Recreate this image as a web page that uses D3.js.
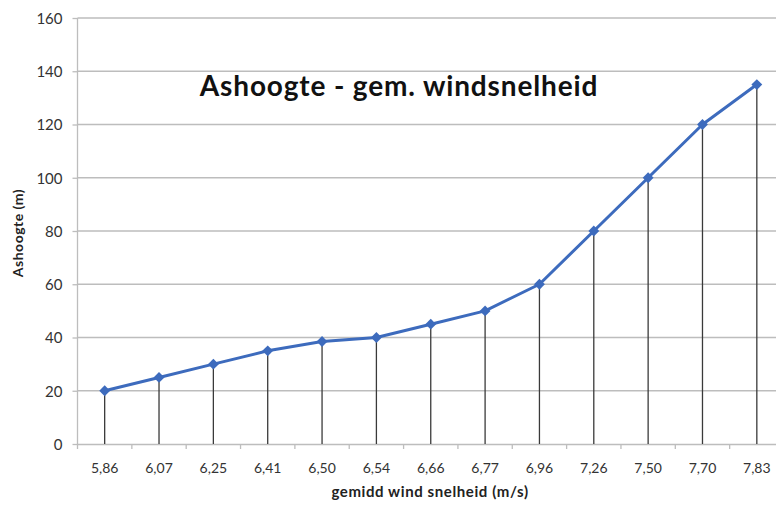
<!DOCTYPE html>
<html><head><meta charset="utf-8">
<script src="https://cdn.jsdelivr.net/npm/d3@7"></script>
<style>body{margin:0;background:#fff}svg{display:block}</style>
</head><body>
<svg id="c" width="776" height="505"></svg>
<script>
const categories = ["5,86","6,07","6,25","6,41","6,50","6,54","6,66","6,77","6,96","7,26","7,50","7,70","7,83"];
const heights = [20,25,30,35,38.5,40,45,50,60,80,100,120,135];
const yTicks = [0,20,40,60,80,100,120,140,160];
const title = "Ashoogte - gem. windsnelheid";
const xTitle = "gemidd wind snelheid (m/s)";
const yTitle = "Ashoogte (m)";

(function(){
const svg = d3.select("#c");
const pl = 77.5, pr = 784, pt = 18, pb = 444;
const x = d3.scaleBand().domain(categories).range([pl, pr]);
const y = d3.scaleLinear().domain([0,160]).range([pb, pt]);
const font = "Lato, 'Open Sans', sans-serif";

svg.append("g").selectAll("line").data(yTicks.filter(d=>d>0)).join("line")
  .attr("x1", pl).attr("x2", 776).attr("y1", d=>y(d)).attr("y2", d=>y(d))
  .attr("stroke", "#bdbdbd").attr("stroke-width", 1.3);

const ya = svg.append("g").attr("transform", `translate(${pl},0)`)
  .call(d3.axisLeft(y).tickValues(yTicks).tickSize(5).tickPadding(10));
ya.select(".domain").attr("stroke", "#bdbdbd").attr("stroke-width", 1.3).attr("d", `M0,${pb}V${pt}`);
ya.selectAll(".tick line").attr("stroke", "#bdbdbd").attr("stroke-width", 1.3);
ya.selectAll("text").attr("font-family", font).attr("font-size", 15).attr("fill", "#333").attr("dy", "0.36em");

const xa = svg.append("g").attr("transform", `translate(0,${pb})`)
  .call(d3.axisBottom(x).tickSize(0));
xa.select(".domain").attr("stroke", "#bdbdbd").attr("stroke-width", 1.3);
xa.selectAll("text").attr("font-family", font).attr("font-size", 14).attr("fill", "#333")
  .attr("y", 29).attr("dy", 0);
svg.append("g").selectAll("line").data(categories.map((c,i)=>pl + i*x.step())).join("line")
  .attr("x1", d=>d).attr("x2", d=>d).attr("y1", pb).attr("y2", pb+5)
  .attr("stroke", "#bdbdbd").attr("stroke-width", 1.3);

const cx = c => x(c) + x.bandwidth()/2;
svg.append("g").selectAll("line").data(categories).join("line")
  .attr("x1", cx).attr("x2", cx)
  .attr("y1", (c,i)=>y(heights[i])).attr("y2", pb)
  .attr("stroke", "#3a3a3a").attr("stroke-width", 1.3);

const line = d3.line().x((d,i)=>cx(categories[i])).y(d=>y(d));
svg.append("path").datum(heights).attr("d", line)
  .attr("fill", "none").attr("stroke", "#3d6bbd").attr("stroke-width", 3).attr("stroke-linejoin", "round");

svg.append("g").selectAll("path").data(heights).join("path")
  .attr("d", d3.symbol().type(d3.symbolDiamond2).size(75))
  .attr("transform", (d,i)=>`translate(${cx(categories[i])},${y(d)})`)
  .attr("fill", "#3d6bbd");

svg.append("text").attr("x", 399).attr("y", 96).attr("text-anchor", "middle")
  .attr("font-family", font).attr("font-weight", "bold").attr("font-size", 28)
  .attr("letter-spacing", 0.85).attr("fill", "#111")
  .text(title);
svg.append("text").attr("x", 430).attr("y", 497).attr("text-anchor", "middle")
  .attr("font-family", font).attr("font-weight", "bold").attr("font-size", 15)
  .attr("letter-spacing", 0.6).attr("fill", "#222")
  .text(xTitle);
svg.append("text").attr("transform", "translate(23,233) rotate(-90)").attr("text-anchor", "middle")
  .attr("font-family", font).attr("font-weight", "bold").attr("font-size", 14)
  .attr("letter-spacing", 0.5).attr("fill", "#222")
  .text(yTitle);
})();
</script>
</body></html>
